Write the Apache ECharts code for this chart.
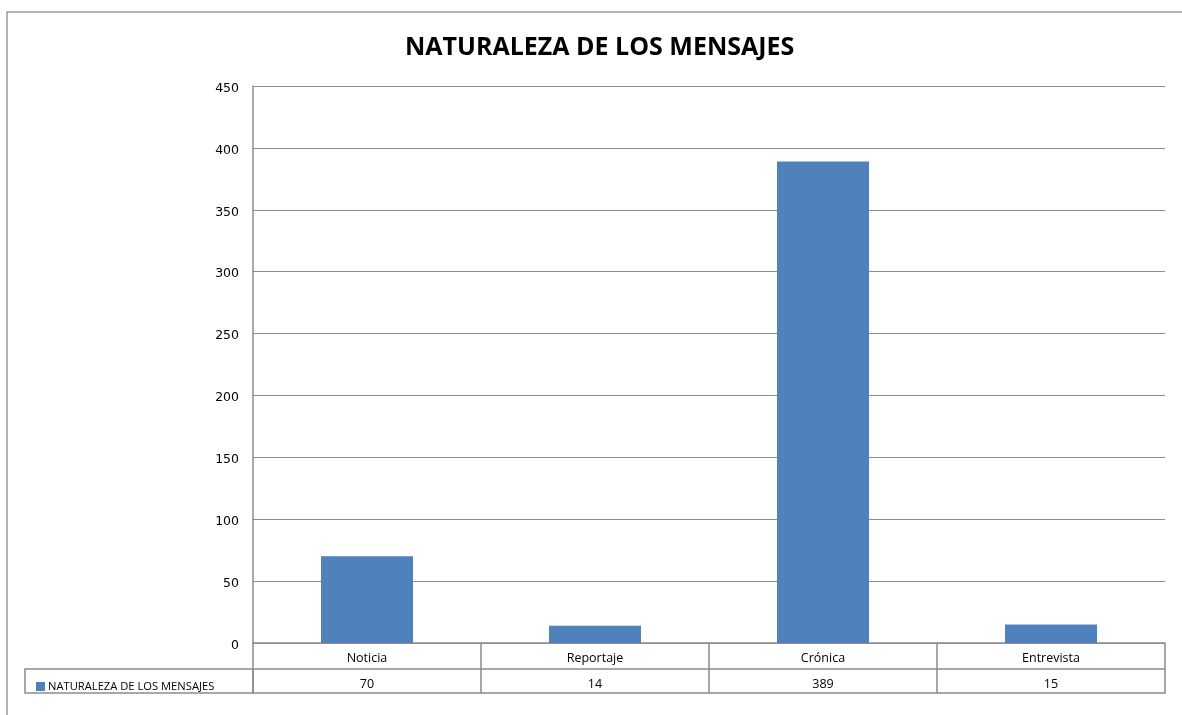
<!DOCTYPE html>
<html>
<head>
<meta charset="utf-8">
<script src="https://cdn.jsdelivr.net/npm/echarts@6/dist/echarts.min.js"></script>
<style>
  html, body { margin: 0; padding: 0; background: #fff; }
  #chart { width: 1182px; height: 715px; }
</style>
</head>
<body>
<div id="chart"></div>
<script>
// datos del gráfico
const categorias = ['Noticia', 'Reportaje', 'Crónica', 'Entrevista']
const valores = [70, 14, 389, 15]
const serieNombre = 'NATURALEZA DE LOS MENSAJES'
const tituloTexto = 'NATURALEZA DE LOS MENSAJES'

const fuente = '"Open Sans", "Noto Sans", sans-serif'
const gris = '#8c8c8c'

const chart = echarts.init(document.getElementById('chart'))

const option = {
  animation: false,
  textStyle: { fontFamily: fuente },
  title: {
    text: tituloTexto,
    left: 405,
    top: 35,
    padding: 0,
    textStyle: { fontSize: 25, fontWeight: 'bold', color: '#000', fontFamily: fuente }
  },
  legend: {
    left: 31,
    top: 676,
    itemWidth: 9,
    itemHeight: 9,
    itemGap: 4,
    icon: 'rect',
    textStyle: { fontSize: 11.2, color: '#000', padding: [0, 0, 0, -2] },
    data: [serieNombre]
  },
  grid: { left: 253, right: 17, top: 86, bottom: 72 },
  xAxis: [
    {
      type: 'category',
      data: categorias,
      position: 'bottom',
      axisLine: { show: true, lineStyle: { color: gris, width: 1.5 } },
      axisTick: { show: true, length: 50, interval: 0, lineStyle: { color: gris, width: 1.5 } },
      axisLabel: { margin: 9, fontSize: 12.5, color: '#000', interval: 0 }
    },
    {
      type: 'category',
      data: categorias,
      position: 'bottom',
      offset: 26,
      axisLine: { show: true, lineStyle: { color: gris, width: 1.5 } },
      axisTick: { show: false },
      axisLabel: {
        margin: 9, fontSize: 12.5, color: '#000', interval: 0,
        formatter: (v, i) => String(valores[i])
      }
    },
    {
      type: 'category',
      data: categorias,
      position: 'bottom',
      offset: 50,
      axisLine: { show: true, lineStyle: { color: gris, width: 1.5 } },
      axisTick: { show: false },
      axisLabel: { show: false }
    }
  ],
  yAxis: {
    type: 'value',
    min: 0,
    max: 450,
    interval: 50,
    axisLine: { show: true, lineStyle: { color: gris, width: 1.5 } },
    axisTick: { show: false },
    axisLabel: {
      margin: 14, color: '#000',
      formatter: v => '{n|' + v + '}',
      rich: {
        n: {
          fontSize: 12.5, color: '#000', padding: [5, 0, 0, 0],
          fontFamily: '"DejaVu Sans", sans-serif'
        }
      }
    },
    splitLine: { show: true, lineStyle: { color: gris, width: 1.2 } }
  },
  series: [
    {
      name: serieNombre,
      type: 'bar',
      data: valores,
      barWidth: 92,
      itemStyle: { color: '#4f81bd' }
    }
  ],
  graphic: [
    // borde exterior del área del gráfico
    {
      type: 'rect',
      shape: { x: 7, y: 12, width: 1200, height: 730 },
      style: { fill: 'none', stroke: '#9a9a9a', lineWidth: 1.5 },
      silent: true
    },
    // celda de la leyenda en la tabla de datos
    {
      type: 'rect',
      shape: { x: 25, y: 669, width: 228, height: 24 },
      style: { fill: 'none', stroke: gris, lineWidth: 1.5 },
      silent: true
    }
  ]
}

chart.setOption(option)
</script>
</body>
</html>
